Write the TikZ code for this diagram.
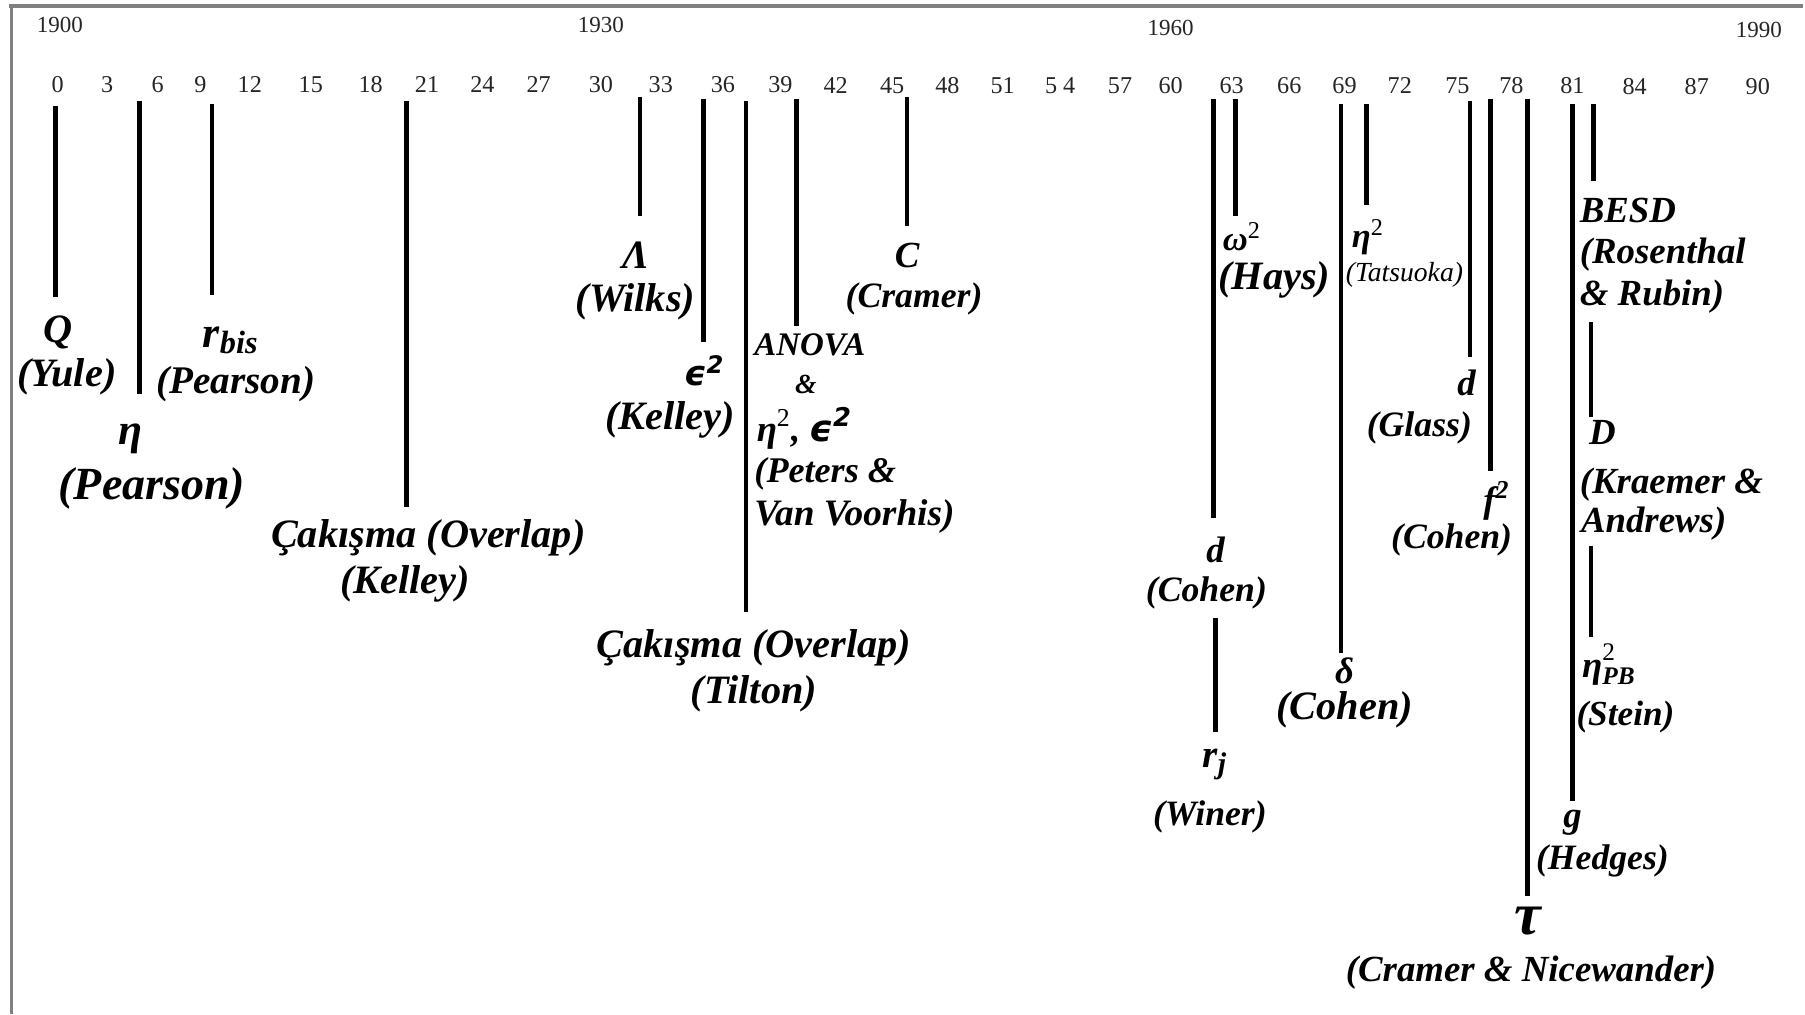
\documentclass[tikz,border=0pt]{standalone}
\usepackage{fontspec}
\setmainfont{Liberation Serif}
\newfontfamily\epsfont{DejaVu Sans}
\newcommand\lsz[1]{\fontsize{#1}{#1}\selectfont}
\tikzset{
  lbl/.style={inner sep=0pt, align=center, font=\bfseries\itshape\lsz{#1}},
  lbl/.default=16,
  bar/.style={line width=2pt, line cap=butt, black},
  frameline/.style={line width=1.6pt, draw={rgb,255:red,128;green,128;blue,128}},
  yr/.style={inner sep=0pt, font=\lsz{10}, text=black!85},
  tk/.style={inner sep=0pt, font=\lsz{10.5}, text=black!85}
}
\begin{document}
\begin{tikzpicture}[x=0.5pt,y=-0.5pt]
\useasboundingbox (0,0) rectangle (1568,881);
\fill[white] (0,0) rectangle (1568,881);
% frame
\coordinate (f1) at (8,5);
\coordinate (f2) at (1566,5);
\coordinate (f3) at (10,5);
\coordinate (f4) at (10,881);
\draw[frameline] (f1) -- (f2);
\draw[frameline] (f3) -- (f4);
% years
\node[yr] (y1900) at (52,22) {1900};
\node[yr] (y1930) at (522,22) {1930};
\node[yr] (y1960) at (1017,24) {1960};
\node[yr] (y1990) at (1528,26) {1990};
% tick numbers
\foreach \v/\x in {0/50,3/93,6/137,9/174,12/217,15/270,18/322,21/371,24/419,27/468,30/522,33/574,36/628,39/678,42/726,45/775,48/823,51/871,5 4/921,57/973,60/1017,63/1070,66/1120,69/1168,72/1216,75/1266,78/1313,81/1366,84/1420,87/1474,90/1527}
  \node[tk] (t\x) at (\x,{73+2*\x/1568}) {\v};
% bars
\foreach \n/\x/\a/\b in {q/48/92/258, eta/121/88/342, rb/184/90/256, ok/353/88/440, lam/556/84/188, eps/611/86/297, ot/648/88/532, an/692/86/283, c/788/84/196, dc/1054/86/450, rj/1056/537/636, om/1073/86/188, de/1165/90/567, et/1187/90/178, dg/1277/88/310, f/1295/86/409, tau/1327/86/778, g/1366/90/696, be/1384/90/157, dd/1382/280/362, pb/1382/474/553}
{
  \coordinate (\n-top) at (\x,\a);
  \coordinate (\n-bot) at (\x,\b);
  \draw[bar] (\n-top) -- (\n-bot);
}
% labels
\node[lbl=17.5] (Q) at (50,289) {Q};
\node[lbl=17.5] (Qa) at (58,327) {(Yule)};
\node[lbl=19] (eta) at (113,381) {η};
\node[lbl=20] (etaa) at (132,424) {(Pearson)};
\node[lbl=19] (rb) at (200,296) {r\raisebox{-0.3ex}{\lsz{14}bis}};
\node[lbl=17] (rba) at (205,334) {(Pearson)};
\node[lbl=17.5] (ok) at (372,467) {Çakışma (Overlap)};
\node[lbl=17.5] (oka) at (352,507) {(Kelley)};
\node[lbl=17.5] (lam) at (552,222) {Λ};
\node[lbl=17.5] (lama) at (552,262) {(Wilks)};
\node[lbl=15] (eps) at (612,322) {{\epsfont\bfseries ϵ\textsuperscript{2}}};
\node[lbl=17.5] (epsa) at (582,365) {(Kelley)};
\node[lbl=17.5] (ot) at (655,563) {Çakışma (Overlap)};
\node[lbl=17.5] (ota) at (655,603) {(Tilton)};
\node[lbl=14.3, anchor=west] (an1) at (655,300) {ANOVA};
\node[lbl=12] (an2) at (700,334) {\&};
\node[lbl=16, anchor=west] (an3) at (657,372) {η\textsuperscript{\normalfont 2}, {\epsfont\bfseries ϵ\textsuperscript{2}}};
\node[lbl=15.7, anchor=west] (an4) at (655,412) {(Peters \&};
\node[lbl=16.2, anchor=west] (an5) at (655,449) {Van Voorhis)};
\node[lbl=16] (c) at (788,222) {C};
\node[lbl=15.5] (ca) at (794,260) {(Cramer)};
\node[lbl=16] (dc) at (1056,478) {d};
\node[lbl=15.5] (dca) at (1048,515) {(Cohen)};
\node[lbl=17] (rj) at (1055,664) {r\raisebox{-0.35ex}{\lsz{13}j}};
\node[lbl=15.5] (rja) at (1051,710) {(Winer)};
\node[lbl=15, anchor=west] (om) at (1062,206) {ω\textsuperscript{\normalfont 2}};
\node[lbl=17.5] (oma) at (1107,243) {(Hays)};
\node[lbl=16] (de) at (1168,583) {δ};
\node[lbl=17.5] (dea) at (1168,617) {(Cohen)};
\node[lbl=15, anchor=west] (et) at (1174,206) {η\textsuperscript{\normalfont 2}};
\node[lbl, font=\mdseries\itshape\lsz{12}] (eta2) at (1220,239) {(Tatsuoka)};
\node[lbl=16] (dg) at (1274,333) {d};
\node[lbl=15.5] (dga) at (1233,372) {(Glass)};
\node[lbl=16] (f) at (1300,435) {f\textsuperscript{2}};
\node[lbl=15.5] (fa) at (1261,469) {(Cohen)};
\node[lbl=26] (tau) at (1327,800) {τ};
\node[lbl=16] (taua) at (1330,845) {(Cramer \& Nicewander)};
\node[lbl=16] (g) at (1366,715) {g};
\node[lbl=15.5] (ga) at (1392,748) {(Hedges)};
\node[lbl=16, anchor=west] (be1) at (1372,183) {BESD};
\node[lbl=16, anchor=west] (be2) at (1372,221) {(Rosenthal};
\node[lbl=16, anchor=west] (be3) at (1372,258) {\& Rubin)};
\node[lbl=16, anchor=west] (dd1) at (1380,376) {D};
\node[lbl=16, anchor=west] (dd2) at (1372,421) {(Kraemer \&};
\node[lbl=16, anchor=west] (dd3) at (1373,455) {Andrews)};
\node[lbl=16, anchor=west] (pb1) at (1374,577) {η\makebox[0pt][l]{\raisebox{1.0ex}{\normalfont\lsz{11}2}}\raisebox{-0.45ex}{\lsz{11}PB}};
\node[lbl=15.3] (pba) at (1412,623) {(Stein)};
\end{tikzpicture}
\end{document}
